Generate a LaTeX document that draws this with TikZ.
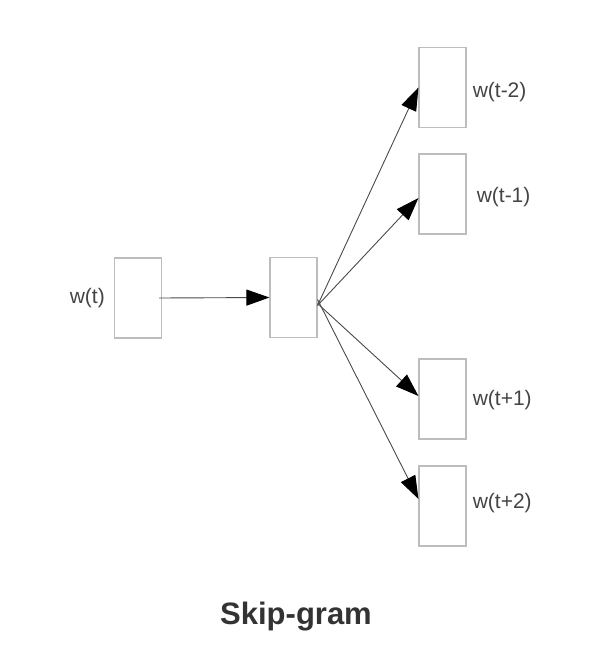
\documentclass[tikz,border=0pt]{standalone}
\usepackage{fontspec}
\setmainfont{Liberation Sans}
\usepackage{xcolor}
\definecolor{cBox}{HTML}{BDBDBD}
\definecolor{cLine}{HTML}{4A4A4A}
\definecolor{cText}{HTML}{444444}
\definecolor{cTitle}{HTML}{333333}
\usetikzlibrary{positioning,arrows.meta}
\tikzset{
  unit-box/.style={draw=cBox,line width=1.1pt,minimum width=47pt,
    minimum height=80pt,inner sep=0pt},
  word-label/.style={font=\fontsize{21}{23}\selectfont,text=cText,inner sep=0pt},
  arrow/.style={-{Triangle[length=23pt,width=16pt,color=black]},draw=cLine,
    line width=0.9pt},
}

\begin{document}
\begin{tikzpicture}[x=1pt,y=-1pt]
  \useasboundingbox (0,0) rectangle (606,658);
  % input, projection, output
  \node[unit-box] (in)  at (138,298) {};
  \node[unit-box] (hid) at (293.5,297.5) {};
  \node[unit-box] (o1)  at (442.5,87.5) {};
  \node[unit-box] (o2)  at (442.5,194) {};
  \node[unit-box] (o3)  at (442.5,399) {};
  \node[unit-box] (o4)  at (442.5,506) {};
  \node[word-label,left=9pt of in] (lin) {w(t)};
  \node[word-label,right=6pt of o1,yshift=-5pt] (l1) {w(t-2)};
  \node[word-label,right=10pt of o2,yshift=-3pt] (l2) {w(t-1)};
  \node[word-label,right=6pt of o3,yshift=-1pt] (l3) {w(t+1)};
  \node[word-label,right=6pt of o4,yshift=3pt] (l4) {w(t+2)};
  \draw[arrow] ([xshift=-3pt]in.east) -- (hid.west);
  \draw[arrow] ([yshift=-8pt]hid.east) -- (o1.west);
  \draw[arrow] ([yshift=-8pt]hid.east) -- ([yshift=-4pt]o2.west);
  \draw[arrow] ([yshift=-6pt]hid.east) -- ([yshift=3pt]o3.west);
  \draw[arrow] ([yshift=-2pt]hid.east) -- ([yshift=7pt]o4.west);
  \node[font=\fontsize{31}{34}\selectfont\bfseries,text=cTitle] (title)
    at (296,617) {Skip-gram};
\end{tikzpicture}
\end{document}
